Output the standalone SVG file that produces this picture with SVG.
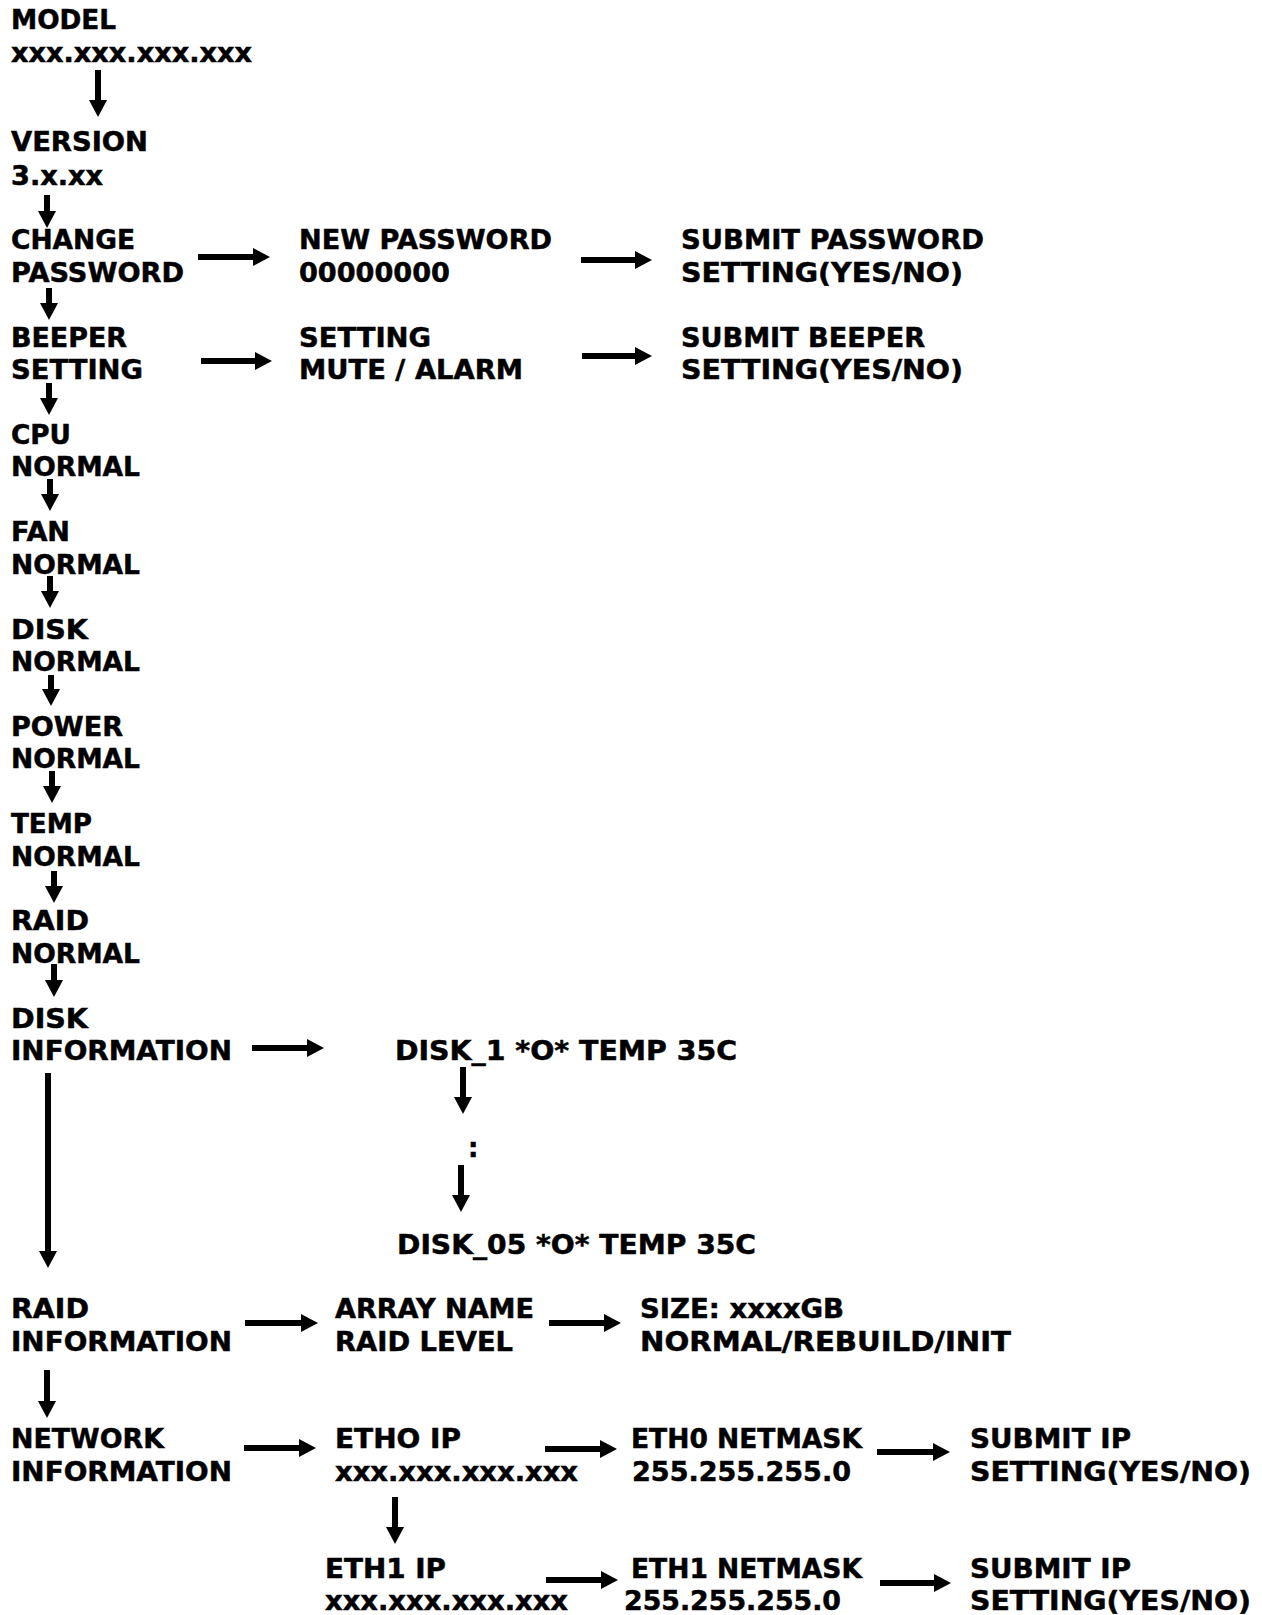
<svg xmlns="http://www.w3.org/2000/svg" width="1262" height="1615" viewBox="0 0 1262 1615">
<defs>
<style>
text{font-family:"DejaVu Sans",Verdana,sans-serif;font-weight:bold;font-size:26px;fill:#000;stroke:#000;stroke-width:0.5}
.c line{stroke:#000;stroke-width:6;marker-end:url(#ah)}
</style>
<marker id="ah" markerUnits="userSpaceOnUse" markerWidth="18" markerHeight="18" refX="1" refY="9" orient="auto" viewBox="0 0 17 18"><path d="M0,0 L17,9 L0,18 z" fill="#000"/></marker>
</defs>
<rect width="1262" height="1615" fill="#fff"/>
<g id="nodes" transform="translate(0,1)">
<g id="model"><text x="11" y="28" textLength="105" lengthAdjust="spacingAndGlyphs">MODEL</text><text x="11" y="61" textLength="241" lengthAdjust="spacingAndGlyphs">xxx.xxx.xxx.xxx</text></g>
<g id="version"><text x="11" y="150" textLength="137" lengthAdjust="spacingAndGlyphs">VERSION</text><text x="11" y="184" textLength="92" lengthAdjust="spacingAndGlyphs">3.x.xx</text></g>
<g id="change-password"><text x="11" y="248" textLength="124" lengthAdjust="spacingAndGlyphs">CHANGE</text><text x="11" y="281" textLength="173" lengthAdjust="spacingAndGlyphs">PASSWORD</text></g>
<g id="new-password"><text x="299" y="248" textLength="253" lengthAdjust="spacingAndGlyphs">NEW PASSWORD</text><text x="299" y="281" textLength="151" lengthAdjust="spacingAndGlyphs">00000000</text></g>
<g id="submit-password"><text x="681" y="248" textLength="303" lengthAdjust="spacingAndGlyphs">SUBMIT PASSWORD</text><text x="681" y="281" textLength="282" lengthAdjust="spacingAndGlyphs">SETTING(YES/NO)</text></g>
<g id="beeper-setting"><text x="11" y="346" textLength="116" lengthAdjust="spacingAndGlyphs">BEEPER</text><text x="11" y="378" textLength="132" lengthAdjust="spacingAndGlyphs">SETTING</text></g>
<g id="setting-mute"><text x="299" y="346" textLength="132" lengthAdjust="spacingAndGlyphs">SETTING</text><text x="299" y="378" textLength="224" lengthAdjust="spacingAndGlyphs">MUTE / ALARM</text></g>
<g id="submit-beeper"><text x="681" y="346" textLength="244" lengthAdjust="spacingAndGlyphs">SUBMIT BEEPER</text><text x="681" y="378" textLength="282" lengthAdjust="spacingAndGlyphs">SETTING(YES/NO)</text></g>
<g id="cpu"><text x="11" y="443" textLength="60" lengthAdjust="spacingAndGlyphs">CPU</text><text x="11" y="475" textLength="129" lengthAdjust="spacingAndGlyphs">NORMAL</text></g>
<g id="fan"><text x="11" y="540" textLength="59" lengthAdjust="spacingAndGlyphs">FAN</text><text x="11" y="573" textLength="129" lengthAdjust="spacingAndGlyphs">NORMAL</text></g>
<g id="disk"><text x="11" y="638" textLength="77" lengthAdjust="spacingAndGlyphs">DISK</text><text x="11" y="670" textLength="129" lengthAdjust="spacingAndGlyphs">NORMAL</text></g>
<g id="power"><text x="11" y="735" textLength="112" lengthAdjust="spacingAndGlyphs">POWER</text><text x="11" y="767" textLength="129" lengthAdjust="spacingAndGlyphs">NORMAL</text></g>
<g id="temp"><text x="11" y="832" textLength="81" lengthAdjust="spacingAndGlyphs">TEMP</text><text x="11" y="865" textLength="129" lengthAdjust="spacingAndGlyphs">NORMAL</text></g>
<g id="raid"><text x="11" y="929" textLength="78" lengthAdjust="spacingAndGlyphs">RAID</text><text x="11" y="962" textLength="129" lengthAdjust="spacingAndGlyphs">NORMAL</text></g>
<g id="disk-information"><text x="11" y="1027" textLength="77" lengthAdjust="spacingAndGlyphs">DISK</text><text x="11" y="1059" textLength="221" lengthAdjust="spacingAndGlyphs">INFORMATION</text></g>
<g id="disk-1"><text x="395" y="1059" textLength="342" lengthAdjust="spacingAndGlyphs">DISK_1 *O* TEMP 35C</text></g>
<g id="ellipsis"><text x="468" y="1156">:</text></g>
<g id="disk-05"><text x="397" y="1253" textLength="359" lengthAdjust="spacingAndGlyphs">DISK_05 *O* TEMP 35C</text></g>
<g id="raid-information"><text x="11" y="1317" textLength="78" lengthAdjust="spacingAndGlyphs">RAID</text><text x="11" y="1350" textLength="221" lengthAdjust="spacingAndGlyphs">INFORMATION</text></g>
<g id="array-name"><text x="335" y="1317" textLength="199" lengthAdjust="spacingAndGlyphs">ARRAY NAME</text><text x="335" y="1350" textLength="178" lengthAdjust="spacingAndGlyphs">RAID LEVEL</text></g>
<g id="size"><text x="640" y="1317" textLength="204" lengthAdjust="spacingAndGlyphs">SIZE: xxxxGB</text><text x="640" y="1350" textLength="371" lengthAdjust="spacingAndGlyphs">NORMAL/REBUILD/INIT</text></g>
<g id="network-information"><text x="11" y="1447" textLength="153" lengthAdjust="spacingAndGlyphs">NETWORK</text><text x="11" y="1480" textLength="221" lengthAdjust="spacingAndGlyphs">INFORMATION</text></g>
<g id="eth0-ip"><text x="335" y="1447" textLength="126" lengthAdjust="spacingAndGlyphs">ETHO IP</text><text x="335" y="1480" textLength="243" lengthAdjust="spacingAndGlyphs">xxx.xxx.xxx.xxx</text></g>
<g id="eth0-netmask"><text x="631" y="1447" textLength="231" lengthAdjust="spacingAndGlyphs">ETH0 NETMASK</text><text x="632" y="1480" textLength="219" lengthAdjust="spacingAndGlyphs">255.255.255.0</text></g>
<g id="submit-ip-0"><text x="970" y="1447" textLength="161" lengthAdjust="spacingAndGlyphs">SUBMIT IP</text><text x="970" y="1480" textLength="281" lengthAdjust="spacingAndGlyphs">SETTING(YES/NO)</text></g>
<g id="eth1-ip"><text x="325" y="1577" textLength="121" lengthAdjust="spacingAndGlyphs">ETH1 IP</text><text x="325" y="1609" textLength="243" lengthAdjust="spacingAndGlyphs">xxx.xxx.xxx.xxx</text></g>
<g id="eth1-netmask"><text x="631" y="1577" textLength="231" lengthAdjust="spacingAndGlyphs">ETH1 NETMASK</text><text x="624" y="1609" textLength="217" lengthAdjust="spacingAndGlyphs">255.255.255.0</text></g>
<g id="submit-ip-1"><text x="970" y="1577" textLength="161" lengthAdjust="spacingAndGlyphs">SUBMIT IP</text><text x="970" y="1609" textLength="281" lengthAdjust="spacingAndGlyphs">SETTING(YES/NO)</text></g>
</g>
<g id="connectors" class="c">
<line x1="98" y1="70" x2="98" y2="101"/>
<line x1="47" y1="195" x2="47" y2="212"/>
<line x1="49" y1="288" x2="49" y2="304"/>
<line x1="49" y1="383" x2="49" y2="399"/>
<line x1="50" y1="479" x2="50" y2="495"/>
<line x1="50" y1="576" x2="50" y2="592"/>
<line x1="51" y1="675" x2="51" y2="690"/>
<line x1="52" y1="771" x2="52" y2="787"/>
<line x1="54" y1="871" x2="54" y2="887"/>
<line x1="54" y1="964" x2="54" y2="981"/>
<line x1="48" y1="1073" x2="48" y2="1252"/>
<line x1="47" y1="1370" x2="47" y2="1402"/>
<line x1="395" y1="1497" x2="395" y2="1528"/>
<line x1="463" y1="1067" x2="463" y2="1098"/>
<line x1="461" y1="1165" x2="461" y2="1196"/>
<line x1="198" y1="257" x2="254" y2="257"/>
<line x1="581" y1="260" x2="636" y2="260"/>
<line x1="201" y1="361" x2="256" y2="361"/>
<line x1="582" y1="356" x2="636" y2="356"/>
<line x1="252" y1="1048" x2="308" y2="1048"/>
<line x1="245" y1="1323" x2="302" y2="1323"/>
<line x1="549" y1="1323" x2="605" y2="1323"/>
<line x1="244" y1="1448" x2="300" y2="1448"/>
<line x1="545" y1="1449" x2="601" y2="1449"/>
<line x1="877" y1="1452" x2="934" y2="1452"/>
<line x1="546" y1="1580" x2="602" y2="1580"/>
<line x1="880" y1="1583" x2="935" y2="1583"/>
</g>
</svg>
